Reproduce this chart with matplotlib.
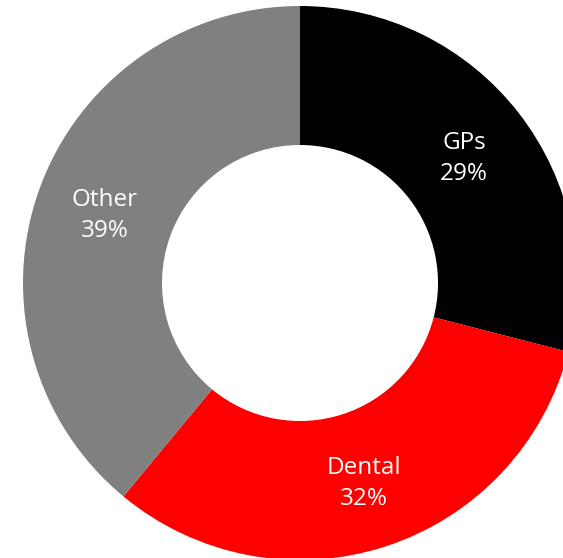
import matplotlib
matplotlib.use('Agg')
import matplotlib.pyplot as plt
import numpy as np

# share of each group
labels = ['GPs', 'Dental', 'Other']
shares = [29, 32, 39]
colors = ['#000000', '#ff0000', '#808080']

outer_r = 277
ring_w = 139

fig = plt.figure(figsize=(5.63, 5.58), dpi=100)
ax = fig.add_axes([0, 0, 1, 1])

wedges, _ = ax.pie(shares, colors=colors, radius=outer_r, startangle=90,
                   counterclock=False, wedgeprops=dict(width=ring_w, linewidth=0))

# labels in the middle of the ring
mid_r = outer_r - ring_w / 2
for w, lab, val in zip(wedges, labels, shares):
    ang = np.deg2rad((w.theta1 + w.theta2) / 2)
    ax.text(mid_r * np.cos(ang), mid_r * np.sin(ang) - 3, f'{lab}\n{val}%',
            ha='center', va='center', color='white', fontsize=17.5,
            family='Open Sans', linespacing=1.4)

ax.set_xlim(-300, 263)
ax.set_ylim(-275, 283)
ax.set_aspect('equal')
ax.axis('off')

fig.savefig('out.png', dpi=100)
